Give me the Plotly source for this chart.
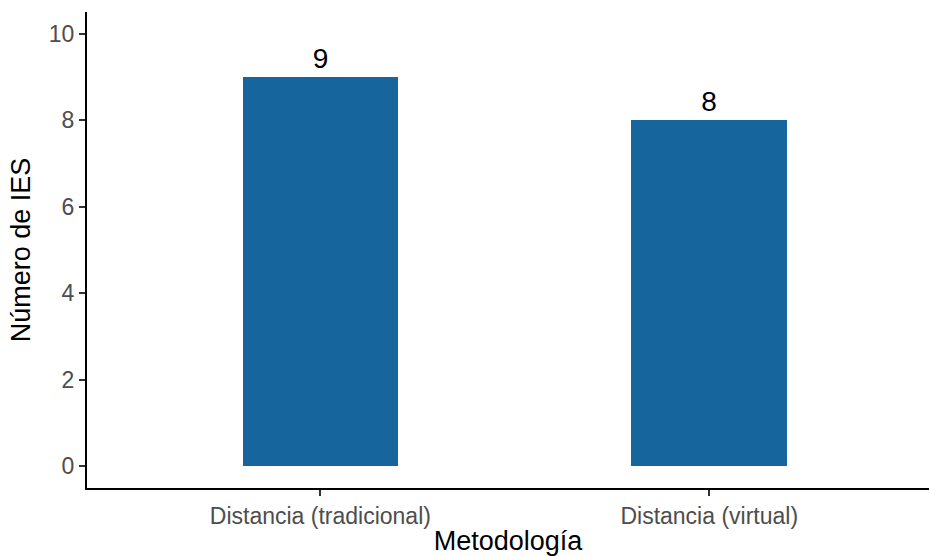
import plotly.graph_objects as go

categories = ["Distancia (tradicional)", "Distancia (virtual)"]
values = [9, 8]
y_ticks = [0, 2, 4, 6, 8, 10]

FONT = "Liberation Sans, Arial, Helvetica, sans-serif"
BAR_COLOR = "#16659C"

fig = go.Figure(
    go.Bar(
        x=categories,
        y=values,
        width=0.4,
        marker=dict(color=BAR_COLOR, line=dict(width=0)),
        text=[str(v) for v in values],
        textposition="outside",
        textfont=dict(family=FONT, size=28, color="black"),
        cliponaxis=False,
        hoverinfo="skip",
    )
)

fig.update_layout(
    width=929,
    height=556,
    margin=dict(l=87, r=0, t=12, b=68, autoexpand=False),
    paper_bgcolor="white",
    plot_bgcolor="white",
    showlegend=False,
    font=dict(family=FONT),
    bargap=0,
)

fig.update_xaxes(
    type="category",
    range=[-0.6, 1.565],
    showline=True,
    linecolor="black",
    linewidth=2,
    ticks="outside",
    ticklen=6,
    tickwidth=2,
    tickcolor="#333333",
    tickfont=dict(family=FONT, size=23, color="#4D4D4D"),
    showgrid=False,
    zeroline=False,
    title=dict(text="Metodología", font=dict(family=FONT, size=27, color="black"), standoff=7),
    automargin=False,
)

fig.update_yaxes(
    range=[-0.5, 10.5],
    tickvals=y_ticks,
    ticktext=[str(t) for t in y_ticks],
    showline=True,
    linecolor="black",
    linewidth=2,
    ticks="outside",
    ticklen=6,
    tickwidth=2,
    tickcolor="#333333",
    tickfont=dict(family=FONT, size=23, color="#4D4D4D"),
    showgrid=False,
    zeroline=False,
    title=dict(text="Número de IES", font=dict(family=FONT, size=27, color="black"), standoff=10),
    automargin=False,
)

fig.write_html(
    "out.html",
    config={"displayModeBar": False},
    post_script="document.body.style.margin='0';document.body.style.padding='0';",
)
